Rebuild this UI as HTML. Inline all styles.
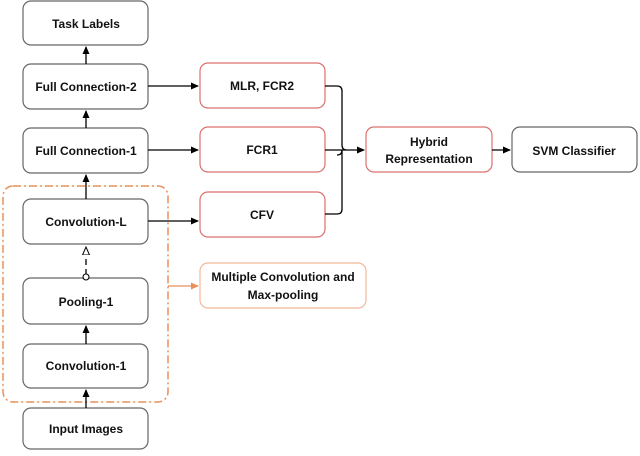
<!DOCTYPE html>
<html><head><style>
body{margin:0;background:#fff;width:640px;height:451px;overflow:hidden}
svg text{font-family:"Liberation Sans",sans-serif;font-weight:bold;font-size:12px;fill:#111;text-anchor:middle}
</style></head><body>
<svg width="640" height="451" viewBox="0 0 640 451">
<defs>
<marker id="a" markerWidth="8" markerHeight="8" refX="7" refY="4" orient="auto" markerUnits="userSpaceOnUse"><path d="M0,0.5 L8,4 L0,7.5z" fill="#000"/></marker>
<marker id="o" markerWidth="8" markerHeight="8" refX="7" refY="4" orient="auto" markerUnits="userSpaceOnUse"><path d="M0,0.5 L8,4 L0,7.5z" fill="#e8915a"/></marker>
<marker id="t" markerWidth="10" markerHeight="10" refX="8" refY="4" orient="auto" markerUnits="userSpaceOnUse"><path d="M0,0.5 L8,4 L0,7.5z" fill="#fff" stroke="#000" stroke-width="1"/></marker>
</defs>
<g fill="#fff" stroke="#666" stroke-width="1.2">
<rect x="23" y="1" width="125" height="44" rx="8"/>
<rect x="23" y="64" width="125" height="45" rx="8"/>
<rect x="23" y="128" width="125" height="45" rx="8"/>
<rect x="23" y="199" width="125" height="45" rx="8"/>
<rect x="23" y="278" width="125" height="46" rx="8"/>
<rect x="23" y="344" width="125" height="44" rx="8"/>
<rect x="23" y="408" width="125" height="41" rx="8"/>
<rect x="512" y="127" width="125" height="45" rx="8"/>
</g>
<g fill="#fff" stroke="#d9706e" stroke-width="1.2">
<rect x="200" y="63" width="125" height="45" rx="8"/>
<rect x="200" y="127" width="125" height="45" rx="8"/>
<rect x="200" y="192" width="125" height="45" rx="8"/>
<rect x="366" y="127" width="126" height="45" rx="8"/>
</g>
<rect x="200" y="263" width="166" height="45" rx="8" fill="#fff" stroke="#f2b898" stroke-width="1.2"/>
<rect x="3" y="186" width="165" height="216" rx="10" fill="none" stroke="#e8915a" stroke-width="1.5" stroke-dasharray="8,3,2,3"/>
<g stroke="#000" stroke-width="1.3" fill="none">
<line x1="86" y1="64" x2="86" y2="47" marker-end="url(#a)"/>
<line x1="86" y1="128" x2="86" y2="111" marker-end="url(#a)"/>
<line x1="86" y1="199" x2="86" y2="175" marker-end="url(#a)"/>
<line x1="86" y1="344" x2="86" y2="326" marker-end="url(#a)"/>
<line x1="86" y1="408" x2="86" y2="390" marker-end="url(#a)"/>
<line x1="86" y1="275" x2="86" y2="247" stroke-dasharray="6,4" marker-end="url(#t)"/>
<line x1="148" y1="86" x2="198" y2="86" marker-end="url(#a)"/>
<line x1="148" y1="150" x2="198" y2="150" marker-end="url(#a)"/>
<line x1="148" y1="221" x2="198" y2="221" marker-end="url(#a)"/>
<path d="M325,86 H337 Q342,86 342,91 V145 Q342,150 347,150 M342,150 Q342,155 337,155 M325,150 H364" marker-end="url(#a)"/>
<path d="M325,214 H337 Q342,214 342,209 V150"/>
<line x1="492" y1="150" x2="510" y2="150" marker-end="url(#a)"/>
</g>
<circle cx="86" cy="277" r="3" fill="#fff" stroke="#000" stroke-width="1.1"/>
<line x1="168" y1="286" x2="198" y2="286" stroke="#e8915a" stroke-width="1.3" marker-end="url(#o)"/>
<text x="86" y="28">Task Labels</text>
<text x="86" y="91">Full Connection-2</text>
<text x="86" y="155">Full Connection-1</text>
<text x="86" y="226">Convolution-L</text>
<text x="86" y="306">Pooling-1</text>
<text x="86" y="370">Convolution-1</text>
<text x="86" y="433">Input Images</text>
<text x="262" y="90">MLR, FCR2</text>
<text x="262" y="154">FCR1</text>
<text x="262" y="219">CFV</text>
<text x="283" y="281">Multiple Convolution and</text>
<text x="283" y="299">Max-pooling</text>
<text x="429" y="146">Hybrid</text>
<text x="429" y="163">Representation</text>
<text x="574" y="155">SVM Classifier</text>
</svg>
</body></html>
